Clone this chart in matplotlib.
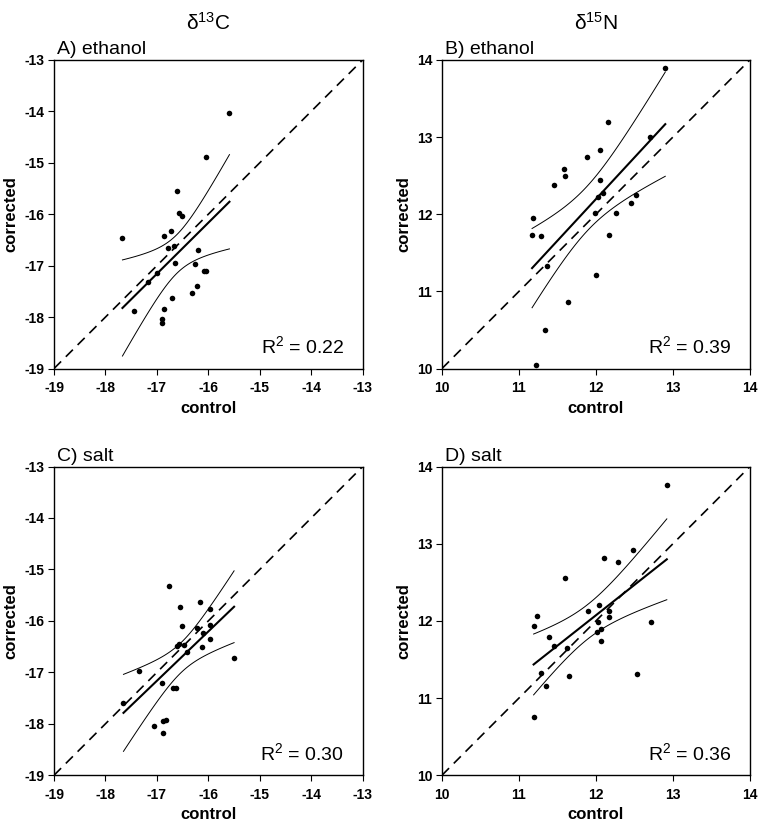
import numpy as np
import matplotlib
matplotlib.use('Agg')
import matplotlib.pyplot as plt

plt.rcParams['font.family'] = ['Liberation Sans', 'DejaVu Sans']
plt.rcParams['mathtext.default'] = 'regular'
plt.rcParams['axes.unicode_minus'] = False

# A) ethanol, d13C
a_ctrl = [-15.59, -16.05, -16.61, -16.58, -16.51, -16.73, -16.86, -17.67, -16.67, -16.79, -16.20, -16.65,
          -16.26, -16.08, -16.05, -17.00, -17.17, -16.22, -16.32, -16.71, -17.45, -16.86, -16.90, -16.90]
a_corr = [-14.04, -14.88, -15.55, -15.97, -16.03, -16.32, -16.43, -16.47, -16.62, -16.65, -16.70, -16.95,
          -16.96, -17.10, -17.11, -17.15, -17.32, -17.40, -17.53, -17.63, -17.89, -17.84, -18.04, -18.11]

# B) ethanol, d15N
b_ctrl = [12.90, 12.16, 12.70, 12.05, 11.88, 11.59, 11.60, 11.45, 12.05, 12.09, 12.03, 12.52,
          12.46, 11.99, 12.26, 11.18, 11.17, 11.28, 12.17, 11.37, 12.00, 11.64, 11.34, 11.22]
b_corr = [13.89, 13.19, 13.00, 12.83, 12.74, 12.59, 12.50, 12.38, 12.44, 12.28, 12.22, 12.25,
          12.15, 12.02, 12.02, 11.95, 11.73, 11.72, 11.73, 11.33, 11.21, 10.86, 10.50, 10.05]

# C) salt, d13C
c_ctrl = [-16.76, -16.16, -16.55, -15.96, -16.51, -16.22, -15.96, -16.10, -15.97, -16.57, -16.60, -16.47,
          -16.12, -16.42, -15.50, -17.35, -16.90, -16.69, -16.63, -17.65, -17.05, -16.88, -16.82, -16.88]
c_corr = [-15.33, -15.64, -15.73, -15.77, -16.10, -16.14, -16.08, -16.23, -16.36, -16.44, -16.49, -16.47,
          -16.50, -16.60, -16.73, -16.98, -17.20, -17.31, -17.31, -17.60, -18.05, -17.95, -17.93, -18.18]

# D) salt, d15N
d_ctrl = [12.92, 12.48, 12.10, 12.28, 11.60, 12.04, 11.90, 12.17, 12.17, 11.23, 11.20, 12.02,
          12.71, 12.06, 12.01, 11.39, 12.07, 11.46, 11.62, 11.29, 12.53, 11.65, 11.35, 11.19]
d_corr = [13.76, 12.92, 12.81, 12.76, 12.56, 12.21, 12.13, 12.13, 12.05, 12.06, 11.94, 11.99,
          11.99, 11.90, 11.85, 11.79, 11.74, 11.68, 11.65, 11.32, 11.31, 11.28, 11.16, 10.75]

c_ticks = [-19, -18, -17, -16, -15, -14, -13]
n_ticks = [10, 11, 12, 13, 14]

panels = [
    ([0.071, 0.556, 0.4056, 0.3719], a_ctrl, a_corr, c_ticks, 'A) ethanol', '0.22'),
    ([0.5808, 0.556, 0.4047, 0.3719], b_ctrl, b_corr, n_ticks, 'B) ethanol', '0.39'),
    ([0.071, 0.066, 0.4056, 0.3719], c_ctrl, c_corr, c_ticks, 'C) salt', '0.30'),
    ([0.5808, 0.066, 0.4047, 0.3719], d_ctrl, d_corr, n_ticks, 'D) salt', '0.36'),
]

fig = plt.figure(figsize=(7.61, 8.30), dpi=100)
tick_font = ['Liberation Sans Narrow', 'Liberation Sans']

for pos, xv, yv, ticks, title, r2 in panels:
    ax = fig.add_axes(pos)
    x = np.array(xv)
    y = np.array(yv)
    lim = (ticks[0], ticks[-1])
    ax.plot(lim, lim, color='k', ls='--', lw=1.2, dashes=(6, 4))

    # regression and 95% confidence band
    n = len(x)
    b, a = np.polyfit(x, y, 1)
    xs = np.linspace(x.min(), x.max(), 100)
    yhat = a + b * xs
    s = np.sqrt(np.sum((y - (a + b * x)) ** 2) / (n - 2))
    sxx = np.sum((x - x.mean()) ** 2)
    half = 2.074 * s * np.sqrt(1.0 / n + (xs - x.mean()) ** 2 / sxx)
    ax.plot(xs, yhat, color='k', lw=1.5)
    ax.plot(xs, yhat + half, color='k', lw=0.7)
    ax.plot(xs, yhat - half, color='k', lw=0.7)

    ax.scatter(x, y, s=16, color='k', zorder=3, linewidths=0)

    ax.set_xlim(lim)
    ax.set_ylim(lim)
    ax.set_xticks(ticks)
    ax.set_yticks(ticks)
    ax.tick_params(direction='out', length=4, width=0.8, pad=3)
    ax.tick_params(axis='x', pad=5)
    for lab in ax.get_xticklabels() + ax.get_yticklabels():
        lab.set_family(tick_font)
        lab.set_fontweight('bold')
        lab.set_fontsize(10)
    for sp in ax.spines.values():
        sp.set_linewidth(1.0)

    ax.set_xlabel('control', fontsize=12, fontweight='bold', labelpad=4)
    ax.set_ylabel('corrected', fontsize=12, fontweight='bold', labelpad=4)
    ax.text(0.01, 1.006, title, transform=ax.transAxes, fontsize=14, ha='left', va='bottom')
    ax.text(0.94, 0.05, 'R$^2$ = ' + r2, transform=ax.transAxes, fontsize=14,
            ha='right', va='baseline')

fig.text(0.274, 0.972, 'δ$^{13}$C', fontsize=15, ha='center', va='center')
fig.text(0.783, 0.972, 'δ$^{15}$N', fontsize=15, ha='center', va='center')

fig.savefig('out.png', dpi=100)
